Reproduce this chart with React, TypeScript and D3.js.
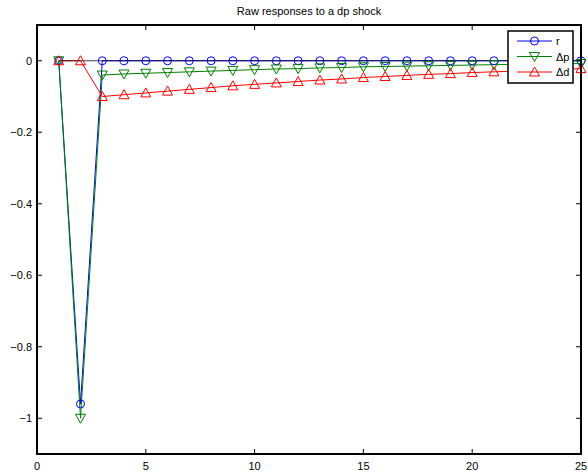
import { useEffect, useRef } from "react";
import * as d3 from "d3";

const periods = d3.range(1, 26);
const rVals = [0, -0.96, 0, 0, 0, 0, 0, 0, 0, 0, 0, 0, 0, 0, 0, 0, 0, 0, 0, 0, 0, 0, 0, 0, 0];
const dpVals = [0, -1.0, -0.04, -0.037, -0.035, -0.033, -0.031, -0.029, -0.027, -0.025, -0.023, -0.022, -0.02, -0.019, -0.017, -0.016, -0.015, -0.014, -0.013, -0.012, -0.011, -0.01, -0.009, -0.008, -0.008];
const ddVals = [0, 0, -0.1, -0.095, -0.09, -0.085, -0.08, -0.075, -0.07, -0.066, -0.062, -0.058, -0.054, -0.051, -0.047, -0.044, -0.041, -0.038, -0.036, -0.033, -0.031, -0.029, -0.026, -0.024, -0.022];
const xTicks = [0, 5, 10, 15, 20, 25];
const yTicks = [0, -0.2, -0.4, -0.6, -0.8, -1];
const seriesNames = ["r", "Δp", "Δd"];
const seriesColors = ["#0000ff", "#008000", "#ff0000"];

export default function App() {
    const ref = useRef(null);

    useEffect(() => {
        document.body.style.margin = "0";
        const svg = d3.select(ref.current);
        svg.selectAll("*").remove();

        const width = 588;
        const height = 475;
        const margin = { top: 25, right: 7, bottom: 21, left: 37 };
        const x0 = margin.left, x1 = width - margin.right;
        const y0 = margin.top, y1 = height - margin.bottom;

        const x = d3.scaleLinear().domain([0, 25]).range([x0, x1]);
        const y = d3.scaleLinear().domain([-1.1, 0.1]).range([y1, y0]);
        const font = "Liberation Sans, Arial, sans-serif";
        const tick = 5;

        svg.append("rect").attr("width", width).attr("height", height).attr("fill", "#fff");

        // title
        svg.append("text")
            .attr("x", (x0 + x1) / 2).attr("y", 15)
            .attr("text-anchor", "middle")
            .attr("font-family", font).attr("font-size", 11)
            .text("Raw responses to a dp shock");

        // ticks inside, on all four sides
        const g = svg.append("g").attr("stroke", "#000").attr("stroke-width", 1);
        xTicks.forEach(t => {
            g.append("line").attr("x1", x(t)).attr("x2", x(t)).attr("y1", y1).attr("y2", y1 - tick);
            g.append("line").attr("x1", x(t)).attr("x2", x(t)).attr("y1", y0).attr("y2", y0 + tick);
        });
        yTicks.forEach(t => {
            g.append("line").attr("x1", x0).attr("x2", x0 + tick).attr("y1", y(t)).attr("y2", y(t));
            g.append("line").attr("x1", x1).attr("x2", x1 - tick).attr("y1", y(t)).attr("y2", y(t));
        });

        svg.selectAll(".xl").data(xTicks).enter().append("text")
            .attr("x", d => x(d)).attr("y", y1 + 16)
            .attr("text-anchor", "middle")
            .attr("font-family", font).attr("font-size", 11)
            .text(d => String(d));

        svg.selectAll(".yl").data(yTicks).enter().append("text")
            .attr("x", x0 - 5).attr("y", d => y(d) + 4)
            .attr("text-anchor", "end")
            .attr("font-family", font).attr("font-size", 11)
            .text(d => (d === 0 ? "0" : "−" + String(Math.abs(d))));

        const allVals = [rVals, dpVals, ddVals];
        const line = d3.line<number>().x((d, i) => x(periods[i])).y(d => y(d));

        const marker = (sel, k, cx, cy) => {
            const c = seriesColors[k];
            if (k === 0) {
                sel.append("circle").attr("cx", cx).attr("cy", cy).attr("r", 4)
                    .attr("fill", "none").attr("stroke", c).attr("stroke-width", 1);
            } else if (k === 1) {
                sel.append("path").attr("d", `M${cx - 5},${cy - 4}L${cx + 5},${cy - 4}L${cx},${cy + 5}Z`)
                    .attr("fill", "none").attr("stroke", c).attr("stroke-width", 1);
            } else {
                sel.append("path").attr("d", `M${cx - 5},${cy + 4}L${cx + 5},${cy + 4}L${cx},${cy - 5}Z`)
                    .attr("fill", "none").attr("stroke", c).attr("stroke-width", 1);
            }
        };

        allVals.forEach((vals, k) => {
            svg.append("path").datum(vals).attr("d", line)
                .attr("fill", "none").attr("stroke", seriesColors[k]).attr("stroke-width", 1);
        });

        // zero line, drawn over the series lines
        svg.append("line")
            .attr("x1", x(1)).attr("x2", x(25)).attr("y1", y(0)).attr("y2", y(0))
            .attr("stroke", "#000").attr("stroke-width", 1).attr("stroke-opacity", 0.75);

        allVals.forEach((vals, k) => {
            const mg = svg.append("g");
            vals.forEach((v, i) => marker(mg, k, x(periods[i]), y(v)));
        });

        // axes box
        svg.append("rect")
            .attr("x", x0).attr("y", y0).attr("width", x1 - x0).attr("height", y1 - y0)
            .attr("fill", "none").attr("stroke", "#000").attr("stroke-width", 2);

        // legend
        const lg = svg.append("g");
        lg.append("rect").attr("x", 508).attr("y", 31).attr("width", 65).attr("height", 52)
            .attr("fill", "#fff").attr("stroke", "#000").attr("stroke-width", 1.5);
        seriesNames.forEach((name, k) => {
            const ly = 41 + k * 15.5;
            lg.append("line").attr("x1", 517).attr("x2", 552).attr("y1", ly).attr("y2", ly)
                .attr("stroke", seriesColors[k]).attr("stroke-width", 1);
            marker(lg, k, 534.5, ly);
            lg.append("text").attr("x", 556).attr("y", ly + 4)
                .attr("font-family", font).attr("font-size", 11).text(name);
        });
    }, []);

    return <svg ref={ref} width={588} height={475} style={{ display: "block" }} />;
}
